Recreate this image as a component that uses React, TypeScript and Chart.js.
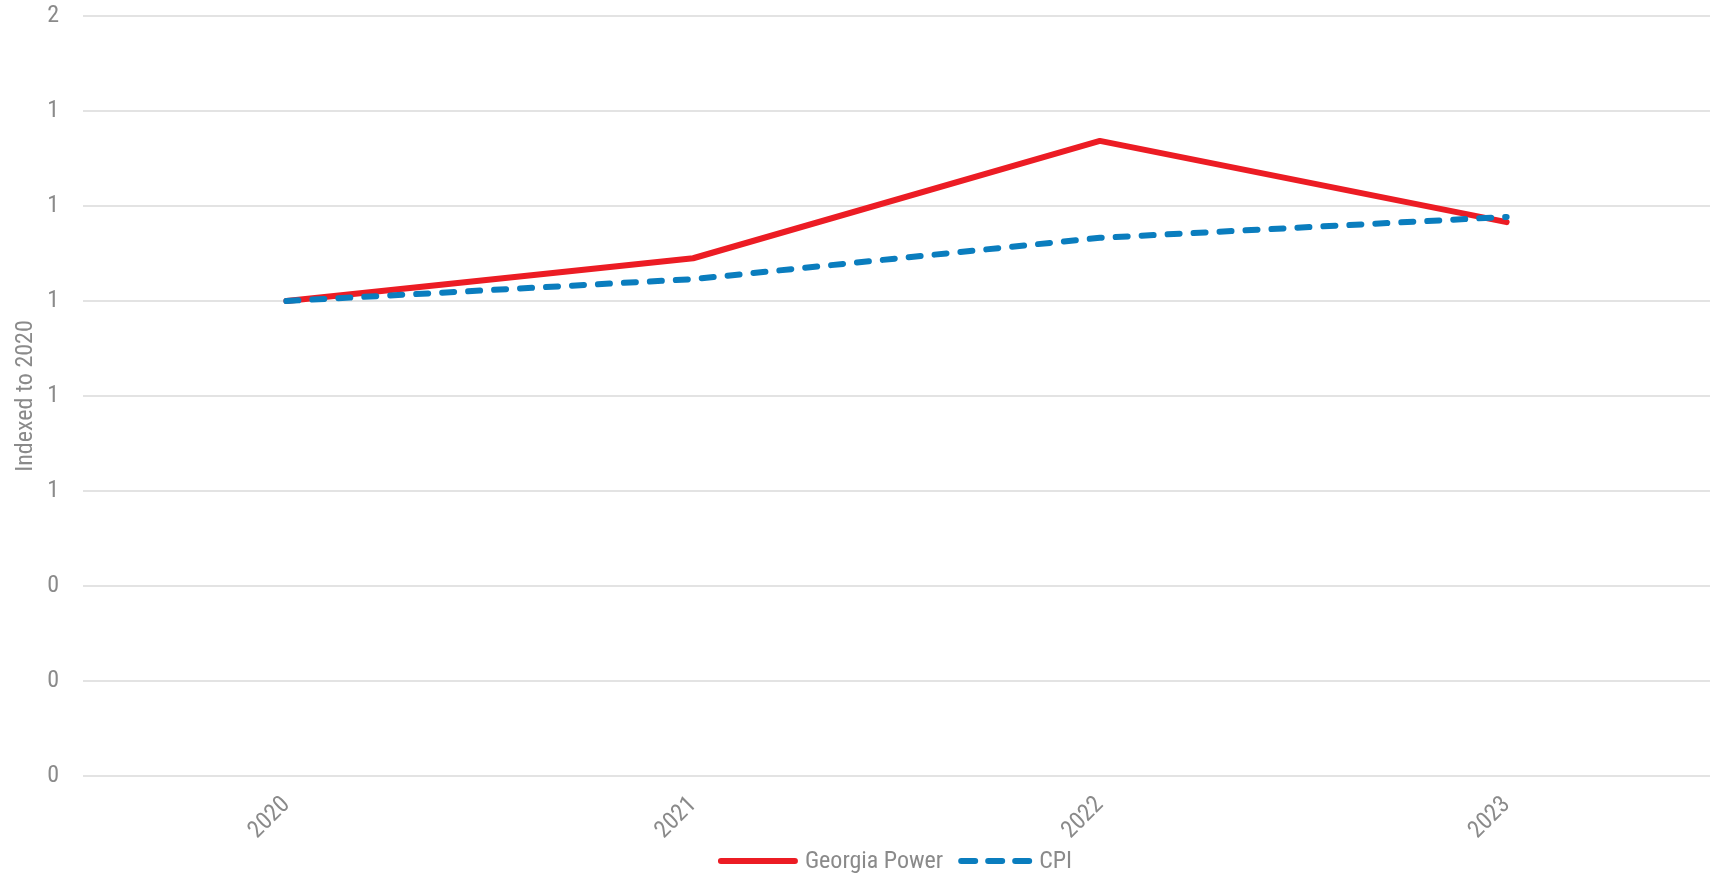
import React, { useEffect, useRef } from "react";
import { Chart, registerables } from "chart.js";

Chart.register(...registerables);

const categories = ["2020", "2021", "2022", "2023"];
const georgiaPower = [1.0, 1.09, 1.337, 1.166];
const cpi = [1.0, 1.046, 1.133, 1.177];
const yTickLabels = ["0", "0", "0", "1", "1", "1", "1", "1", "2"];
const yAxisTitle = "Indexed to 2020";
const seriesNames = ["Georgia Power", "CPI"];

const FONT = '"Liberation Sans Narrow", "Arial Narrow", "Roboto Condensed", "DejaVu Sans Condensed", sans-serif';
const GRAY = "#8a8a8a";
const FONT_SIZE = 24;

const bottomLegend = {
  id: "bottomLegend",
  afterDraw(chart: any) {
    const ctx = chart.ctx as CanvasRenderingContext2D;
    const area = chart.chartArea;
    ctx.save();
    ctx.font = `${FONT_SIZE}px ${FONT}`;
    const items = chart.data.datasets.map((ds: any) => {
      const dashed = Array.isArray(ds.borderDash) && ds.borderDash.length > 0;
      return {
        text: ds.label as string,
        color: ds.borderColor as string,
        width: ds.borderWidth as number,
        dash: dashed ? [14, 13] : [],
        len: dashed ? 68 : 74,
        textW: ctx.measureText(ds.label).width,
      };
    });
    const sampleGap = 10;
    const itemGap = 18;
    let total = 0;
    items.forEach((it: any, i: number) => {
      total += it.len + sampleGap + it.textW + (i > 0 ? itemGap : 0);
    });
    let x = (area.left + area.right) / 2 - total / 2;
    const y = 861;
    items.forEach((it: any, i: number) => {
      if (i > 0) x += itemGap;
      ctx.beginPath();
      ctx.strokeStyle = it.color;
      ctx.lineWidth = it.width;
      ctx.lineCap = "round";
      ctx.setLineDash(it.dash);
      ctx.moveTo(x, y);
      ctx.lineTo(x + it.len, y);
      ctx.stroke();
      x += it.len + sampleGap;
      ctx.setLineDash([]);
      ctx.fillStyle = GRAY;
      ctx.textAlign = "left";
      ctx.textBaseline = "middle";
      ctx.fillText(it.text, x, y + 1);
      x += it.textW;
    });
    ctx.restore();
  },
};

export default function App() {
  const ref = useRef<HTMLCanvasElement | null>(null);

  useEffect(() => {
    document.body.style.margin = "0";
    document.body.style.overflow = "hidden";
    const canvas = ref.current;
    if (!canvas) return;
    const chart = new Chart(canvas, {
      type: "line",
      data: {
        labels: categories,
        datasets: [
          {
            label: seriesNames[0],
            data: georgiaPower,
            borderColor: "#EC1C24",
            backgroundColor: "#EC1C24",
            borderWidth: 6,
            borderCapStyle: "round",
            borderJoinStyle: "round",
            pointRadius: 0,
            tension: 0,
            order: 1,
          },
          {
            label: seriesNames[1],
            data: cpi,
            borderColor: "#0A7DBE",
            backgroundColor: "#0A7DBE",
            borderWidth: 6,
            borderDash: [12, 14],
            borderCapStyle: "round",
            borderJoinStyle: "round",
            pointRadius: 0,
            tension: 0,
            order: 0,
          },
        ],
      },
      options: {
        responsive: false,
        animation: false,
        layout: { padding: { left: 8, right: 4, top: 16, bottom: 32 } },
        plugins: {
          tooltip: { enabled: false },
          legend: { display: false },
        },
        scales: {
          x: {
            offset: true,
            grid: { display: false, drawTicks: false },
            border: { display: false },
            ticks: {
              color: GRAY,
              font: { family: FONT, size: FONT_SIZE },
              minRotation: 45,
              maxRotation: 45,
              padding: 15,
            },
            afterFit: (s: any) => {
              s.height = 70;
            },
          },
          y: {
            min: 0,
            max: 1.6,
            grid: { color: "#e3e3e3", lineWidth: 2, drawTicks: false },
            border: { display: false },
            ticks: {
              stepSize: 0.2,
              color: GRAY,
              font: { family: FONT, size: FONT_SIZE },
              padding: 24,
              callback: (_v: any, i: number) => yTickLabels[i],
            },
            title: {
              display: true,
              text: yAxisTitle,
              color: GRAY,
              font: { family: FONT, size: FONT_SIZE },
              padding: { top: 4, bottom: 4 },
            },
            afterFit: (s: any) => {
              s.width = 75;
              s.paddingTop = 0;
              s.paddingBottom = 0;
            },
          },
        },
      },
      plugins: [bottomLegend],
    });
    return () => chart.destroy();
  }, []);

  return (
    <canvas
      ref={ref}
      width={1714}
      height={878}
      style={{ position: "fixed", left: 0, top: 0, width: 1714, height: 878 }}
    />
  );
}
